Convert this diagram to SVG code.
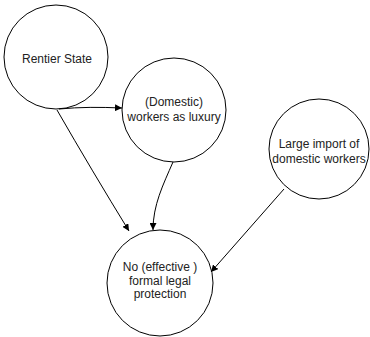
<svg xmlns="http://www.w3.org/2000/svg" width="370" height="337" viewBox="0 0 370 337">
  <defs>
    <marker id="arrow" viewBox="0 0 10 10" refX="10" refY="5" markerWidth="7" markerHeight="7" orient="auto" markerUnits="userSpaceOnUse">
      <path d="M0,0 L10,5 L0,10 z" fill="#000"/>
    </marker>
  </defs>
  <style>
    .node { fill: #fff; stroke: #000; stroke-width: 1; }
    .label { font-family: "Liberation Sans", Arial, sans-serif; font-size: 12px; fill: #222; text-anchor: middle; }
    .edge { fill: none; stroke: #000; stroke-width: 1; marker-end: url(#arrow); }
  </style>
  <rect width="370" height="337" fill="#fff"/>

  <g id="rentier-state">
    <circle class="node" cx="56" cy="57" r="52"/>
    <text class="label" x="57" y="63">Rentier State</text>
  </g>

  <g id="workers-as-luxury">
    <circle class="node" cx="174" cy="110" r="52"/>
    <text class="label" x="174" y="106">(Domestic)</text>
    <text class="label" x="174" y="121">workers as luxury</text>
  </g>

  <g id="large-import">
    <circle class="node" cx="319" cy="149" r="50"/>
    <text class="label" x="319" y="148">Large import of</text>
    <text class="label" x="319" y="163">domestic workers</text>
  </g>

  <g id="no-legal-protection">
    <circle class="node" cx="160" cy="283" r="53"/>
    <text class="label" x="160" y="271">No (effective )</text>
    <text class="label" x="160" y="285">formal legal</text>
    <text class="label" x="160" y="298">protection</text>
  </g>

  <g id="connectors">
    <path class="edge" d="M59,109 C 80,107 100,107 122,108"/>
    <path class="edge" d="M57,110 C 80,150 105,192 129,231"/>
    <path class="edge" d="M173,162 C 163,185 153,205 153,230"/>
    <path class="edge" d="M284,189 L211,272"/>
  </g>
</svg>
